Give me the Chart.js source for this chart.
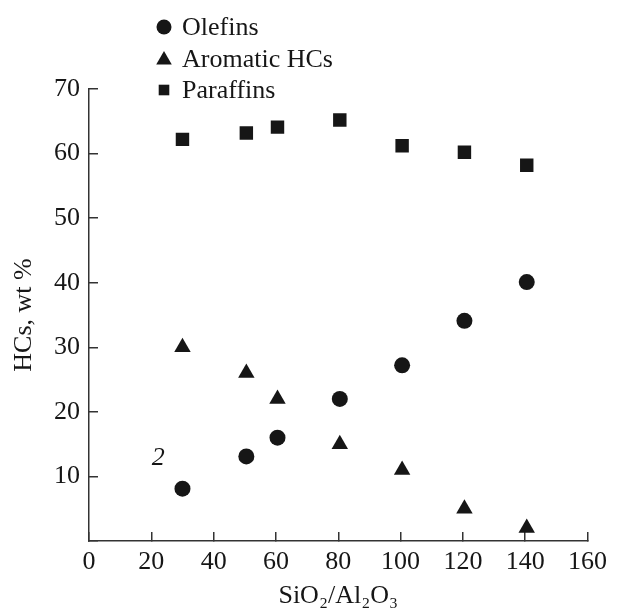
<!DOCTYPE html>
<html>
<head>
<meta charset="utf-8">
<script src="https://cdn.jsdelivr.net/npm/chart.js@4"></script>
<style>
  body { margin: 0; background: #fff; }
  #wrap { width: 622px; height: 612px; }
  #probe { position: absolute; left: -999px; font-family: "Liberation Serif"; }
</style>
</head>
<body>
<span id="probe">Aa <i>2</i></span>
<div id="wrap"><canvas id="chart"></canvas></div>
<script>
// SiO2/Al2O3 ratio of each sample
const ratios = [30, 50.5, 60.5, 80.5, 100.5, 120.5, 140.5];

// HCs, wt %
const olefins = [8.1, 13.1, 16, 22, 27.2, 34.1, 40.1];
const aromatics = [30, 26, 22, 15, 11, 5, 2];
const paraffins = [62.2, 63.2, 64.1, 65.2, 61.2, 60.2, 58.2];

const seriesNames = ["Olefins", "Aromatic HCs", "Paraffins"];
const seriesShapes = ["circle", "triangle", "rect"];
const seriesSizes = [8, 9.5, 9.5];

// curve label "2"
const curveLabel = { text: "2", x: 22.2, y: 12.8 };

const ink = "#161616";
const serif = "'Liberation Serif', 'DejaVu Serif', serif";

const toPoints = (ys) => ratios.map((x, i) => ({ x: x, y: ys[i] }));

const datasets = [olefins, aromatics, paraffins].map((ys, i) => ({
    label: seriesNames[i],
    data: toPoints(ys),
    pointStyle: seriesShapes[i],
    pointRadius: seriesSizes[i],
    backgroundColor: ink,
    borderColor: ink,
    borderWidth: 0,
    showLine: false,
}));

// legend stacked in one column, above the plot
const columnLegend = {
    id: "columnLegend",
    afterDraw(chart) {
        const ctx = chart.ctx;
        const rows = [27, 59, 90];
        ctx.save();
        ctx.font = "26px " + serif;
        ctx.textBaseline = "middle";
        chart.data.datasets.forEach((ds, i) => {
            ctx.fillStyle = ink;
            ctx.strokeStyle = ink;
            Chart.helpers.drawPoint(ctx, { pointStyle: ds.pointStyle, radius: i == 1 ? 9 : 7.5, borderWidth: 0 }, 164, rows[i] + (i == 1 ? 1 : 0));
            ctx.fillText(ds.label, 182, rows[i] + 1);
        });
        ctx.restore();
    },
};

// italic curve number
const curveNumber = {
    id: "curveNumber",
    afterDatasetsDraw(chart) {
        const ctx = chart.ctx;
        ctx.save();
        ctx.font = "italic 26px " + serif;
        ctx.fillStyle = ink;
        ctx.textAlign = "center";
        ctx.textBaseline = "middle";
        ctx.fillText(curveLabel.text, chart.scales.x.getPixelForValue(curveLabel.x), chart.scales.y.getPixelForValue(curveLabel.y));
        ctx.restore();
    },
};

const draw = () => new Chart(document.getElementById("chart"), {
    type: "scatter",
    data: { datasets: datasets },
    plugins: [columnLegend, curveNumber],
    options: {
        responsive: true,
        maintainAspectRatio: false,
        animation: false,
        layout: { padding: { top: 89, right: 20, left: 0, bottom: 0 } },
        plugins: {
            legend: { display: false },
            tooltip: { enabled: false },
        },
        scales: {
            x: {
                type: "linear",
                min: 0,
                max: 160,
                ticks: { stepSize: 20, color: ink, padding: 15, font: { family: serif, size: 26 } },
                grid: { drawOnChartArea: false, tickLength: -9, color: "#333", lineWidth: 1.5 },
                border: { color: "#333", width: 1.5 },
                title: {
                    display: true,
                    text: "SiO₂/Al₂O₃",
                    color: ink,
                    padding: { top: 0, bottom: 0 },
                    font: { family: serif, size: 26 },
                },
                afterFit: (scale) => { scale.height = 71; },
            },
            y: {
                min: 0,
                max: 70,
                ticks: {
                    stepSize: 10,
                    color: ink,
                    padding: 18,
                    font: { family: serif, size: 26 },
                    callback: (v) => (v === 0 ? "" : v),
                },
                grid: { drawOnChartArea: false, tickLength: -9, color: "#333", lineWidth: 1.5 },
                border: { color: "#333", width: 1.5 },
                title: {
                    display: true,
                    text: "HCs, wt %",
                    color: ink,
                    padding: { top: 9, bottom: 0 },
                    font: { family: serif, size: 26 },
                },
                afterFit: (scale) => { scale.width = 89; },
            },
        },
    },
});

Promise.all([
    document.fonts.load("26px 'Liberation Serif'"),
    document.fonts.load("italic 26px 'Liberation Serif'"),
]).then(draw, draw);
</script>
</body>
</html>
